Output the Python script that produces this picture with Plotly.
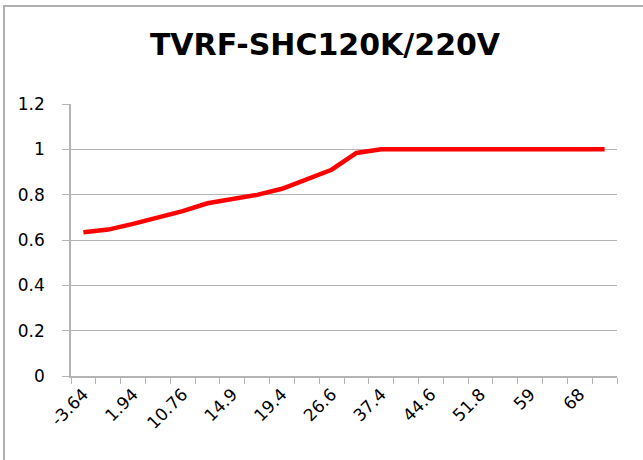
import plotly.graph_objects as go

# Categories (every other label is shown on the axis, as in the reference)
categories = ["-3.64", "-0.86", "1.94", "6.35", "10.76", "12.83", "14.9", "17.15",
              "19.4", "23", "26.6", "32", "37.4", "41", "44.6", "48.2",
              "51.8", "55.4", "59", "63.5", "68", "72.5"]
values = [0.634, 0.646, 0.671, 0.698, 0.727, 0.762, 0.781, 0.799, 0.826, 0.867,
          0.910, 0.984, 1.0, 1.0, 1.0, 1.0, 1.0, 1.0, 1.0, 1.0, 1.0, 1.0]
tick_text = [c if i % 2 == 0 else "" for i, c in enumerate(categories)]
title_text = "TVRF-SHC120K/220V"

W, H = 643, 460
L, R, T, B = 71, 643 - 617, 104, 460 - 376
pw, ph = W - L - R, H - T - B

grid = "#b4b4b4"
font_family = "'DejaVu Sans', sans-serif"

fig = go.Figure()
fig.add_trace(go.Scatter(
    x=categories, y=values, mode="lines",
    line=dict(color="#ff0000", width=4.5),
    hoverinfo="skip", showlegend=False,
))

fig.update_layout(
    width=W, height=H,
    margin=dict(l=L, r=R, t=T, b=B, pad=0, autoexpand=False),
    paper_bgcolor="white", plot_bgcolor="white",
    font=dict(family=font_family, color="#000000", size=17),
    title=dict(text="<b>" + title_text + "</b>", x=325 / W, xanchor="center",
               xref="container", y=1 - 44 / H, yref="container", yanchor="middle",
               font=dict(family=font_family, size=30, color="#000000")),
    xaxis=dict(
        type="category", categoryorder="array", categoryarray=categories,
        tickmode="array", tickvals=categories, ticktext=tick_text,
        tickson="boundaries", ticks="outside", ticklen=6, tickcolor=grid,
        tickangle=-45, showline=True, linecolor=grid, linewidth=1.5,
        showgrid=False, zeroline=False, automargin=False,
        tickfont=dict(family=font_family, size=17),
        range=[-0.5, len(categories) - 0.5],
    ),
    yaxis=dict(
        range=[0, 1.2], tickmode="linear", tick0=0, dtick=0.2,
        tickformat="~g", automargin=False,
        ticks="outside", ticklen=7, tickcolor=grid,
        showline=True, linecolor=grid, linewidth=1.5,
        showgrid=True, gridcolor=grid, gridwidth=1,
        zeroline=False, ticklabelstandoff=14,
        tickfont=dict(family=font_family, size=17),
    ),
    shapes=[dict(
        type="rect", xref="paper", yref="paper",
        x0=(4 - L) / pw, x1=(W + 5 - L) / pw,
        y0=(T + ph - (H + 5)) / ph, y1=(T + ph - 6) / ph,
        line=dict(color="#b0b0b0", width=2), fillcolor="rgba(0,0,0,0)", layer="below",
    )],
)

fig.write_html(
    "out.html",
    post_script="document.body.style.margin='0';document.body.style.overflow='hidden';",
    config={"displayModeBar": False},
)
